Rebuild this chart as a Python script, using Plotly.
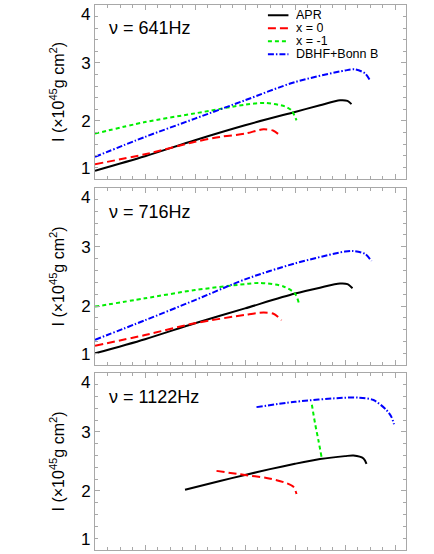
# Moment of inertia vs. mass-like axis for three spin frequencies
import plotly.graph_objects as go

# Panel labels (spin frequency)
FREQS = ["641Hz", "716Hz", "1122Hz"]

# Series names
NAMES = ["APR", "x = 0", "x = -1", "DBHF+Bonn B"]

# Panel 1: nu = 641 Hz
apr_641_x = [0, 1, 2, 3, 4, 4.5, 4.9, 5.05, 5.13]
apr_641_y = [1.14, 1.39, 1.667, 1.925, 2.155, 2.27, 2.356, 2.345, 2.29]
x0_641_x = [0, 1, 2, 2.5, 3, 3.37, 3.57, 3.67]
x0_641_y = [1.253, 1.425, 1.64, 1.724, 1.78, 1.856, 1.83, 1.77]
xm1_641_x = [0, 1, 2, 3, 3.4, 3.8, 3.93, 4.03]
xm1_641_y = [1.78, 1.98, 2.13, 2.28, 2.31, 2.25, 2.18, 2.01]
dbhf_641_x = [0, 1, 2, 3, 4, 5, 5.2, 5.4, 5.5]
dbhf_641_y = [1.38, 1.724, 2.04, 2.356, 2.67, 2.87, 2.89, 2.82, 2.70]

# Panel 2: nu = 716 Hz
apr_716_x = [0, 1, 2, 3, 4, 4.5, 4.9, 5.05, 5.15]
apr_716_y = [1.20, 1.44, 1.71, 1.96, 2.21, 2.31, 2.38, 2.37, 2.30]
x0_716_x = [0, 1, 2, 3, 3.37, 3.57, 3.73]
x0_716_y = [1.33, 1.51, 1.71, 1.85, 1.89, 1.87, 1.76]
xm1_716_x = [0, 1, 2, 3, 3.3, 3.77, 4.0, 4.08]
xm1_716_y = [1.99, 2.13, 2.27, 2.37, 2.39, 2.33, 2.21, 2.04]
dbhf_716_x = [0, 1, 2, 3, 4, 5, 5.17, 5.4, 5.53]
dbhf_716_y = [1.43, 1.76, 2.10, 2.45, 2.72, 2.92, 2.93, 2.88, 2.76]

# Panel 3: nu = 1122 Hz
apr_1122_x = [1.8, 2.5, 3, 3.5, 4, 4.5, 5, 5.17, 5.37, 5.43]
apr_1122_y = [2.02, 2.17, 2.27, 2.37, 2.46, 2.54, 2.59, 2.60, 2.55, 2.46]
x0_1122_x = [2.43, 3, 3.43, 3.77, 3.97, 4.03]
x0_1122_y = [2.34, 2.27, 2.22, 2.15, 2.07, 1.95]
xm1_1122_x = [4.53, 4.47, 4.4, 4.33]
xm1_1122_y = [2.58, 2.85, 3.15, 3.5]
dbhf_1122_x = [3.23, 4, 5, 5.27, 5.57, 5.83, 5.93, 5.98]
dbhf_1122_y = [3.42, 3.51, 3.58, 3.58, 3.54, 3.37, 3.25, 3.13]

PANELS = [
    [(apr_641_x, apr_641_y), (x0_641_x, x0_641_y), (xm1_641_x, xm1_641_y), (dbhf_641_x, dbhf_641_y)],
    [(apr_716_x, apr_716_y), (x0_716_x, x0_716_y), (xm1_716_x, xm1_716_y), (dbhf_716_x, dbhf_716_y)],
    [(apr_1122_x, apr_1122_y), (x0_1122_x, x0_1122_y), (xm1_1122_x, xm1_1122_y), (dbhf_1122_x, dbhf_1122_y)],
]

# line styles for each series
COLORS = ["black", "#ff0000", "#00ee00", "#0000ff"]
DASHES = ["solid", "8px,4px", "4px,3px", "6px,2px,1.5px,2px"]

FONT = "Liberation Sans, Arial, sans-serif"
FRAME = "#a8a8a8"

# vertical domains of the three panels (top to bottom)
DOMAINS = [[0.681, 1.0], [0.339, 0.665], [0.0, 0.325]]

fig = go.Figure()

for p in range(3):
    ax = "" if p == 0 else str(p + 1)
    for s in range(4):
        xs, ys = PANELS[p][s]
        fig.add_trace(go.Scatter(
            x=xs, y=ys, mode="lines", name=NAMES[s], showlegend=False, hoverinfo="skip",
            line=dict(color=COLORS[s], dash=DASHES[s], width=2, shape="spline", smoothing=0.8),
            xaxis="x" + ax, yaxis="y" + ax,
        ))

    # axes
    fig.update_layout(**{
        "xaxis" + ax: dict(
            domain=[0, 1], range=[0, 6.22], anchor="y" + ax,
            showline=True, linecolor=FRAME, linewidth=1, mirror="allticks",
            ticks="inside", ticklen=5, tickcolor=FRAME, dtick=1, tick0=0,
            showticklabels=False, showgrid=False, zeroline=False,
            minor=dict(ticks="inside", ticklen=3, tickcolor=FRAME, dtick=0.25, showgrid=False),
        ),
        "yaxis" + ax: dict(
            domain=DOMAINS[p], range=[1, 4], anchor="x" + ax,
            showline=True, linecolor=FRAME, linewidth=1, mirror="allticks",
            ticks="inside", ticklen=5, tickcolor=FRAME,
            tickvals=[2, 3], tickfont=dict(size=17, color="black", family=FONT),
            showgrid=False, zeroline=False,
            minor=dict(ticks="inside", ticklen=3, tickcolor=FRAME, dtick=0.2, tick0=0, showgrid=False),
            title=dict(text="I (\u00d710<sup>45</sup>g cm<sup>2</sup>)",
                       font=dict(size=16, color="black", family=FONT), standoff=12),
        ),
    })

    # edge tick labels pushed inside the panel like the original
    fig.add_annotation(x=0, y=4, xref="x" + ax + " domain", yref="y" + ax, text="4",
                       showarrow=False, xanchor="right", yanchor="top", xshift=-3, yshift=2,
                       font=dict(size=17, color="black", family=FONT))
    fig.add_annotation(x=0, y=1, xref="x" + ax + " domain", yref="y" + ax, text="1",
                       showarrow=False, xanchor="right", yanchor="bottom", xshift=-3, yshift=-1,
                       font=dict(size=17, color="black", family=FONT))

    # frequency label
    fig.add_annotation(x=0.037, y=0.865, xref="x" + ax + " domain", yref="y" + ax + " domain",
                       text="\u03bd = " + FREQS[p], showarrow=False, xanchor="left", yanchor="middle",
                       font=dict(size=18, color="black", family=FONT))

# hand-made legend in the top panel (rows are tighter than plotly's legend)
LEG_Y = [0.941, 0.866, 0.792, 0.717]
for s in range(4):
    fig.add_shape(type="line", xref="x domain", yref="y domain",
                  x0=0.556, x1=0.622, y0=LEG_Y[s], y1=LEG_Y[s],
                  line=dict(color=COLORS[s], dash=DASHES[s], width=2))
    fig.add_annotation(x=0.643, y=LEG_Y[s], xref="x domain", yref="y domain",
                       text=NAMES[s], showarrow=False, xanchor="left", yanchor="middle",
                       height=12, borderpad=0,
                       font=dict(size=12.5, color="black", family=FONT))

fig.update_layout(
    width=434, height=554,
    margin=dict(l=95, r=28, t=5, b=4),
    plot_bgcolor="white", paper_bgcolor="white",
    showlegend=False,
)

# drop the browser's default page margin so the figure sits at the window corner
fig.write_html("out.html", config={"displayModeBar": False},
               post_script="document.body.style.margin='0';")
